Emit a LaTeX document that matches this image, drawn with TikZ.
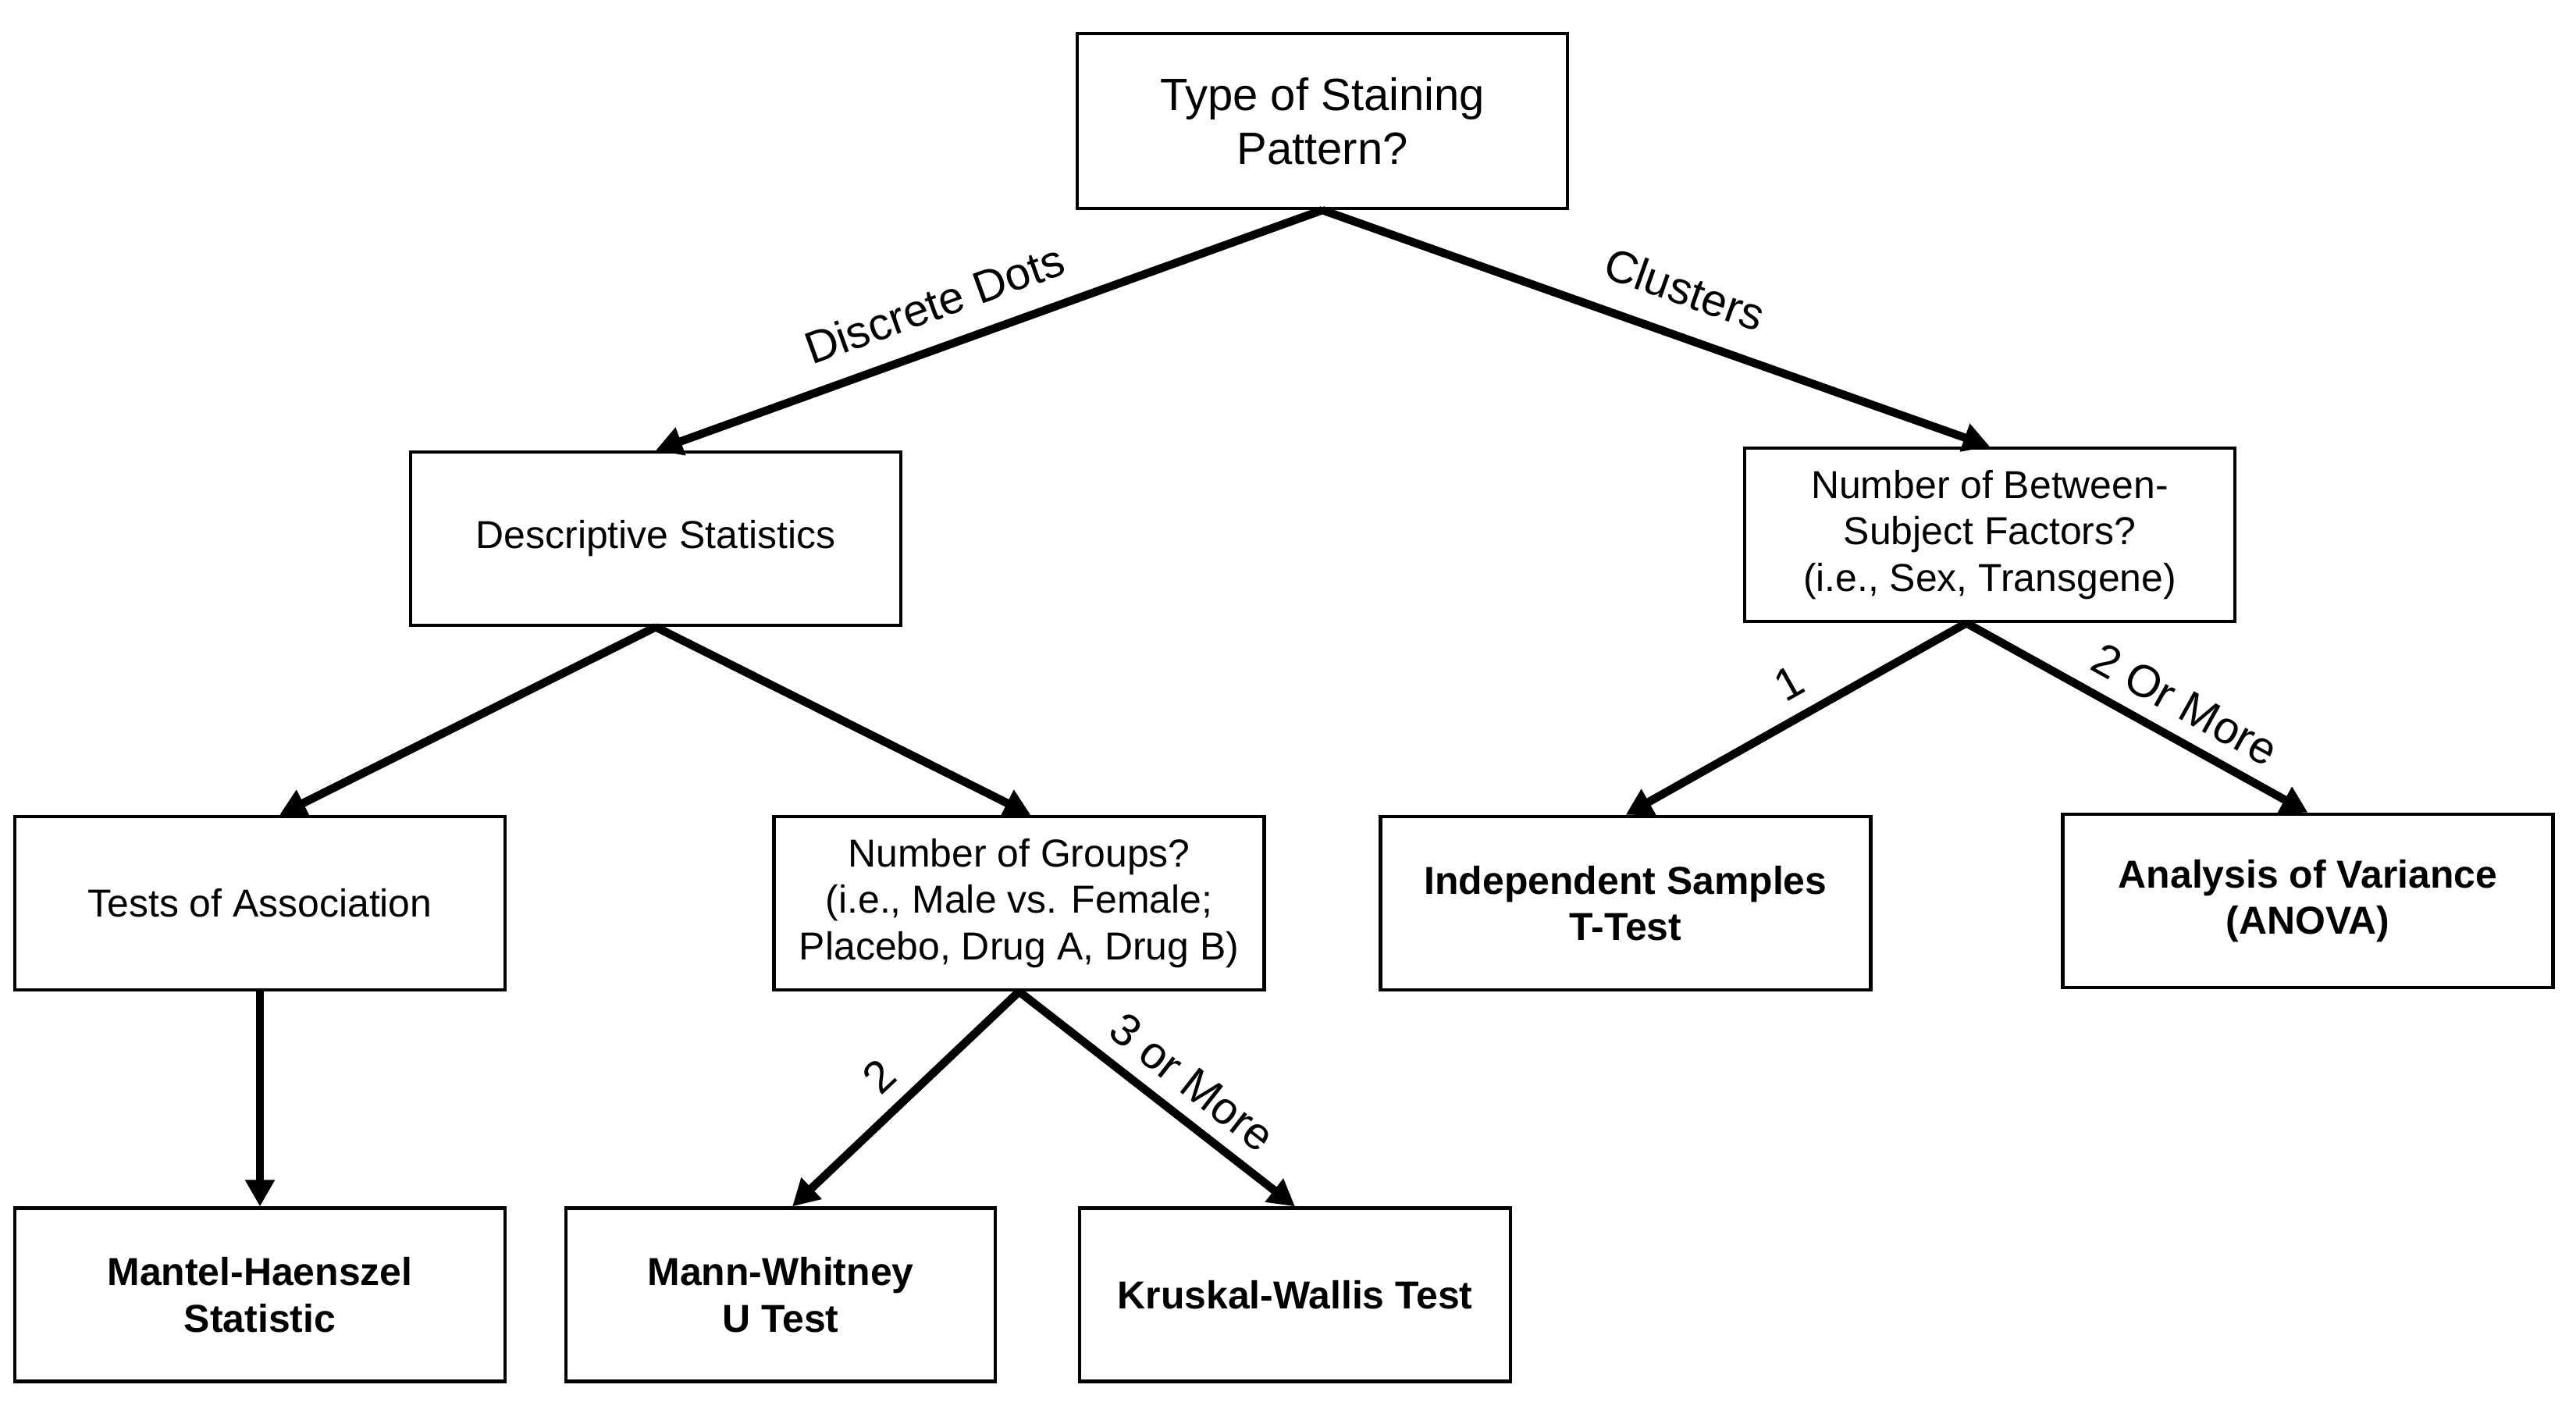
\documentclass[tikz,border=0pt]{standalone}
\usepackage{fontspec}
\setmainfont{Liberation Sans}
\usetikzlibrary{arrows.meta}

\tikzstyle{qbox}=[rectangle, draw, line width=1.2pt, align=center, minimum width=6.28cm, minimum height=2.22cm, font=\fontsize{14.2}{17}\selectfont]
\tikzstyle{tbox}=[qbox, font=\fontsize{14.2}{17}\selectfont\bfseries]
\tikzstyle{arr}=[line width=3pt, -{Triangle[length=3.4mm,width=3.6mm]}]
\tikzstyle{elabel}=[sloped, above, inner sep=1.9mm, font=\fontsize{16.5}{19.6}\selectfont]

\begin{document}
\begin{tikzpicture}
\useasboundingbox (0,0) rectangle (33,-18);

\node [qbox, font=\fontsize{16.5}{19.6}\selectfont, minimum height=2.24cm] (v1) at (16.94,-1.55) {Type of Staining\\Pattern?};
\node [qbox] (v2) at (8.40,-6.90) {Descriptive Statistics};
\node [qbox] (v3) at (25.49,-6.85) {Number of Between-\\Subject Factors?\\(i.e., Sex, Transgene)};
\node [qbox] (v4) at (3.33,-11.57) {Tests of Association};
\node [qbox] (v5) at (13.055,-11.57) {Number of Groups?\\(i.e., Male vs. Female;\\Placebo, Drug A, Drug B)};
\node [tbox] (v6) at (20.825,-11.57) {Independent Samples\\T-Test};
\node [tbox] (v7) at (29.565,-11.54) {Analysis of Variance\\(ANOVA)};
\node [tbox] (v8) at (3.33,-16.585) {Mantel-Haenszel\\Statistic};
\node [tbox, minimum width=5.5cm] (v9) at (10.00,-16.585) {Mann-Whitney\\U Test};
\node [tbox, minimum width=5.52cm] (v10) at (16.59,-16.585) {Kruskal-Wallis Test};

\draw (v1.south) edge[arr] node[elabel, above=1mm, pos=0.56] {Discrete Dots} (v2.north);
\draw (v1.south) edge[arr] node[elabel, above=1.4mm, pos=0.52] {Clusters} (v3.north);
\draw (v2.south) edge[arr] ([xshift=2.5mm]v4.north);
\draw (v2.south) edge[arr] ([xshift=1.5mm]v5.north);
\draw ([xshift=-3mm]v3.south) edge[arr] node[elabel, pos=0.47] {1} (v6.north);
\draw ([xshift=-3mm]v3.south) edge[arr] node[elabel, pos=0.59] {2 Or More} (v7.north);
\draw (v4.south) edge[arr] (v8.north);
\draw (v5.south) edge[arr] node[elabel, pos=0.51] {2} ([xshift=1.5mm]v9.north);
\draw (v5.south) edge[arr] node[elabel, pos=0.55] {3 or More} (v10.north);
\end{tikzpicture}
\end{document}
